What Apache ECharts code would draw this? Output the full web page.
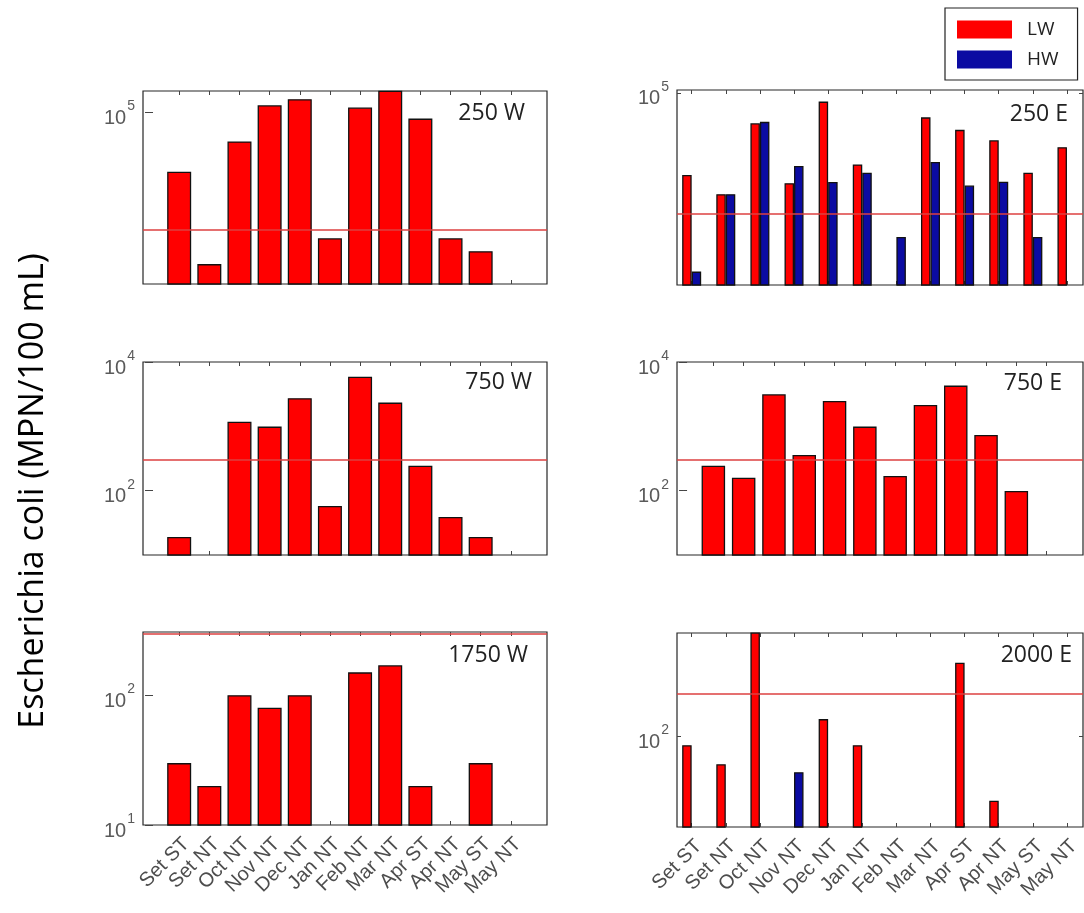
<!DOCTYPE html>
<html>
<head>
<meta charset="utf-8">
<script src="https://cdn.jsdelivr.net/npm/echarts@6/dist/echarts.min.js"></script>
<style>
  html, body { margin: 0; padding: 0; background: #fff; }
  #chart { width: 1084px; height: 913px; }
</style>
</head>
<body>
<div id="chart"></div>
<script>
// Sampling campaigns (ST / NT) from September to May
const months = ['Set ST', 'Set NT', 'Oct NT', 'Nov NT', 'Dec NT', 'Jan NT', 'Feb NT', 'Mar NT', 'Apr ST', 'Apr NT', 'May ST', 'May NT'];

// Bathing-water reference level, MPN/100 mL
const threshold = 300;

// E. coli counts, MPN/100 mL (null = no sample)
const lw250W  = [5300, 56, 23700, 141000, 190000, 200, 126000, 290000, 73000, 200, 106, null];
const lw250E  = [1960, 780, 23300, 1320, 66000, 3250, null, 31000, 17000, 10300, 2180, 7400];
const hw250E  = [19, 780, 25000, 3000, 1400, 2170, 100, 3650, 1180, 1420, 100, null];
const lw750W  = [19, null, 1180, 990, 2740, 58, 5900, 2340, 245, 39, 19, null];
const lw750E  = [245, 159, 3150, 359, 2480, 990, 169, 2150, 4300, 735, 99, null];
const lw1750W = [30, 20, 100, 80, 100, null, 150, 170, 20, null, 30, null];
const lw2000E = [79, 48, 1500, null, 156, 79, null, null, 680, 18.5, null, null];
const hw2000E = [null, null, null, 39, null, null, null, null, null, null, null, null];

// Decade exponents that carry a tick and a label on each panel
const labels250W = [5], labels250E = [5], labels750W = [2, 4], labels750E = [2, 4];
const labels1750W = [1, 2], labels2000E = [2];

const RED = '#ff0000', BLUE = '#0b0ba2';

const panels = [
  { name: '250 W',  grid: { left: 143, top: 91,  width: 404, height: 193 }, x: [-0.2, 13.2],  y: [21, 285000],  exps: labels250W,  bw: 24,  series: [['LW', lw250W, RED]],  title: { right: 559, top: 99 } },
  { name: '250 E',  grid: { left: 677, top: 90,  width: 406, height: 195 }, x: [0.57, 12.47], y: [10, 115000],  exps: labels250E,  bw: 9.5, series: [['LW', lw250E, RED], ['HW', hw250E, BLUE]], title: { right: 16, top: 100 } },
  { name: '750 W',  grid: { left: 143, top: 362, width: 404, height: 193 }, x: [-0.2, 13.2],  y: [10, 10000],   exps: labels750W,  bw: 24,  series: [['LW', lw750W, RED]],  title: { right: 552, top: 368 } },
  { name: '750 E',  grid: { left: 677, top: 362, width: 406, height: 193 }, x: [-0.2, 13.2],  y: [10, 10000],   exps: labels750E,  bw: 23.5, series: [['LW', lw750E, RED]], title: { right: 22, top: 369 } },
  { name: '1750 W', grid: { left: 143, top: 632, width: 404, height: 193 }, x: [-0.2, 13.2],  y: [10, 307],     exps: labels1750W, bw: 24,  series: [['LW', lw1750W, RED]], title: { right: 556, top: 641 }, bottom: true },
  { name: '2000 E', grid: { left: 677, top: 633, width: 406, height: 194 }, x: [0.57, 12.47], y: [9.3, 1480],   exps: labels2000E, bw: 9.5, series: [['LW', lw2000E, RED], ['HW', hw2000E, BLUE]], title: { right: 12, top: 641 }, bottom: true }
];

const tickPositions = months.map((m, k) => k + 1);

const option = {
  animation: false,
  backgroundColor: '#ffffff',
  grid: [], xAxis: [], yAxis: [], series: [], title: [],
  legend: {
    data: ['LW', 'HW'],
    orient: 'vertical',
    left: 945, top: 8,
    padding: [12, 19, 11, 12],
    itemGap: 11, itemWidth: 55, itemHeight: 18,
    icon: 'rect',
    borderColor: '#222', borderWidth: 1.2, backgroundColor: '#fff',
    itemStyle: { borderWidth: 0 },
    selectedMode: false,
    textStyle: { fontSize: 19, color: '#222', fontFamily: 'Open Sans', padding: [0, 0, 0, 10] }
  },
  graphic: [{
    type: 'text',
    x: 33, y: 491,
    rotation: Math.PI / 2,
    style: {
      text: 'Escherichia coli (MPN/100 mL)',
      fontSize: 34, fontFamily: 'Open Sans', fill: '#000',
      textAlign: 'center', textVerticalAlign: 'middle'
    }
  }]
};

const tickLine = { color: '#444', width: 1 };

panels.forEach((p, i) => {
  option.grid.push(Object.assign({ show: true, borderColor: '#262626', borderWidth: 1.2, backgroundColor: 'transparent' }, p.grid));

  const xBase = { type: 'value', gridIndex: i, min: p.x[0], max: p.x[1], splitLine: { show: false }, axisLine: { show: false } };
  option.xAxis.push(Object.assign({}, xBase, {
    position: 'bottom',
    axisTick: { show: true, inside: true, length: 4, customValues: tickPositions, lineStyle: tickLine },
    axisLabel: p.bottom ? {
      show: true, customValues: tickPositions, rotate: 45, margin: 9,
      verticalAlign: 'top',
      fontSize: 20, color: '#4d4d4d', fontFamily: 'Liberation Sans',
      formatter: v => months[Math.round(v) - 1] || ''
    } : { show: false }
  }));
  option.xAxis.push(Object.assign({}, xBase, {
    position: 'top',
    axisTick: { show: true, inside: true, length: 4, customValues: tickPositions, lineStyle: tickLine },
    axisLabel: { show: false }
  }));

  const decadeTicks = p.exps.map(e => Math.pow(10, e));
  const yBase = { type: 'log', logBase: 10, gridIndex: i, min: p.y[0], max: p.y[1], splitLine: { show: false }, axisLine: { show: false } };
  option.yAxis.push(Object.assign({}, yBase, {
    position: 'left',
    axisTick: { show: true, inside: true, length: 4, customValues: decadeTicks, lineStyle: tickLine },
    axisLabel: {
      show: true, margin: 8,
      formatter: v => {
        const e = Math.log10(v), r = Math.round(e);
        return (Math.abs(e - r) < 1e-6 && p.exps.includes(r)) ? '{b|10}{s|' + r + '}' : '';
      },
      rich: {
        b: { fontSize: 20, color: '#5a5a5a', fontFamily: 'Liberation Sans', padding: [12, 0, 0, 0] },
        s: { fontSize: 14, color: '#5a5a5a', fontFamily: 'Liberation Sans', padding: [0, 0, 12, 1] }
      }
    }
  }));
  option.yAxis.push(Object.assign({}, yBase, {
    position: 'right',
    axisTick: { show: true, inside: true, length: 4, customValues: decadeTicks, lineStyle: tickLine },
    axisLabel: { show: false }
  }));

  p.series.forEach(([name, values, color], j) => {
    const s = {
      type: 'bar', name,
      xAxisIndex: 2 * i, yAxisIndex: 2 * i,
      barWidth: p.bw, barGap: '0%',
      clip: true,
      itemStyle: { color, borderColor: '#111', borderWidth: 1.3 },
      data: values.map((v, k) => [k + 1, v]).filter(d => d[1] != null)
    };
    if (j === p.series.length - 1) {
      s.markLine = {
        silent: true, symbol: 'none', label: { show: false },
        lineStyle: { color: '#dc4040', width: 1.6, type: 'solid' },
        emphasis: { disabled: true },
        data: [{ yAxis: threshold }]
      };
    }
    option.series.push(s);
  });

  option.title.push({
    text: p.name, right: p.title.right, top: p.title.top, padding: 0,
    textStyle: { fontSize: 23, fontWeight: 'normal', color: '#222', fontFamily: 'Open Sans', lineHeight: 28 }
  });
});

const chart = echarts.init(document.getElementById('chart'));
chart.setOption(option);
</script>
</body>
</html>
